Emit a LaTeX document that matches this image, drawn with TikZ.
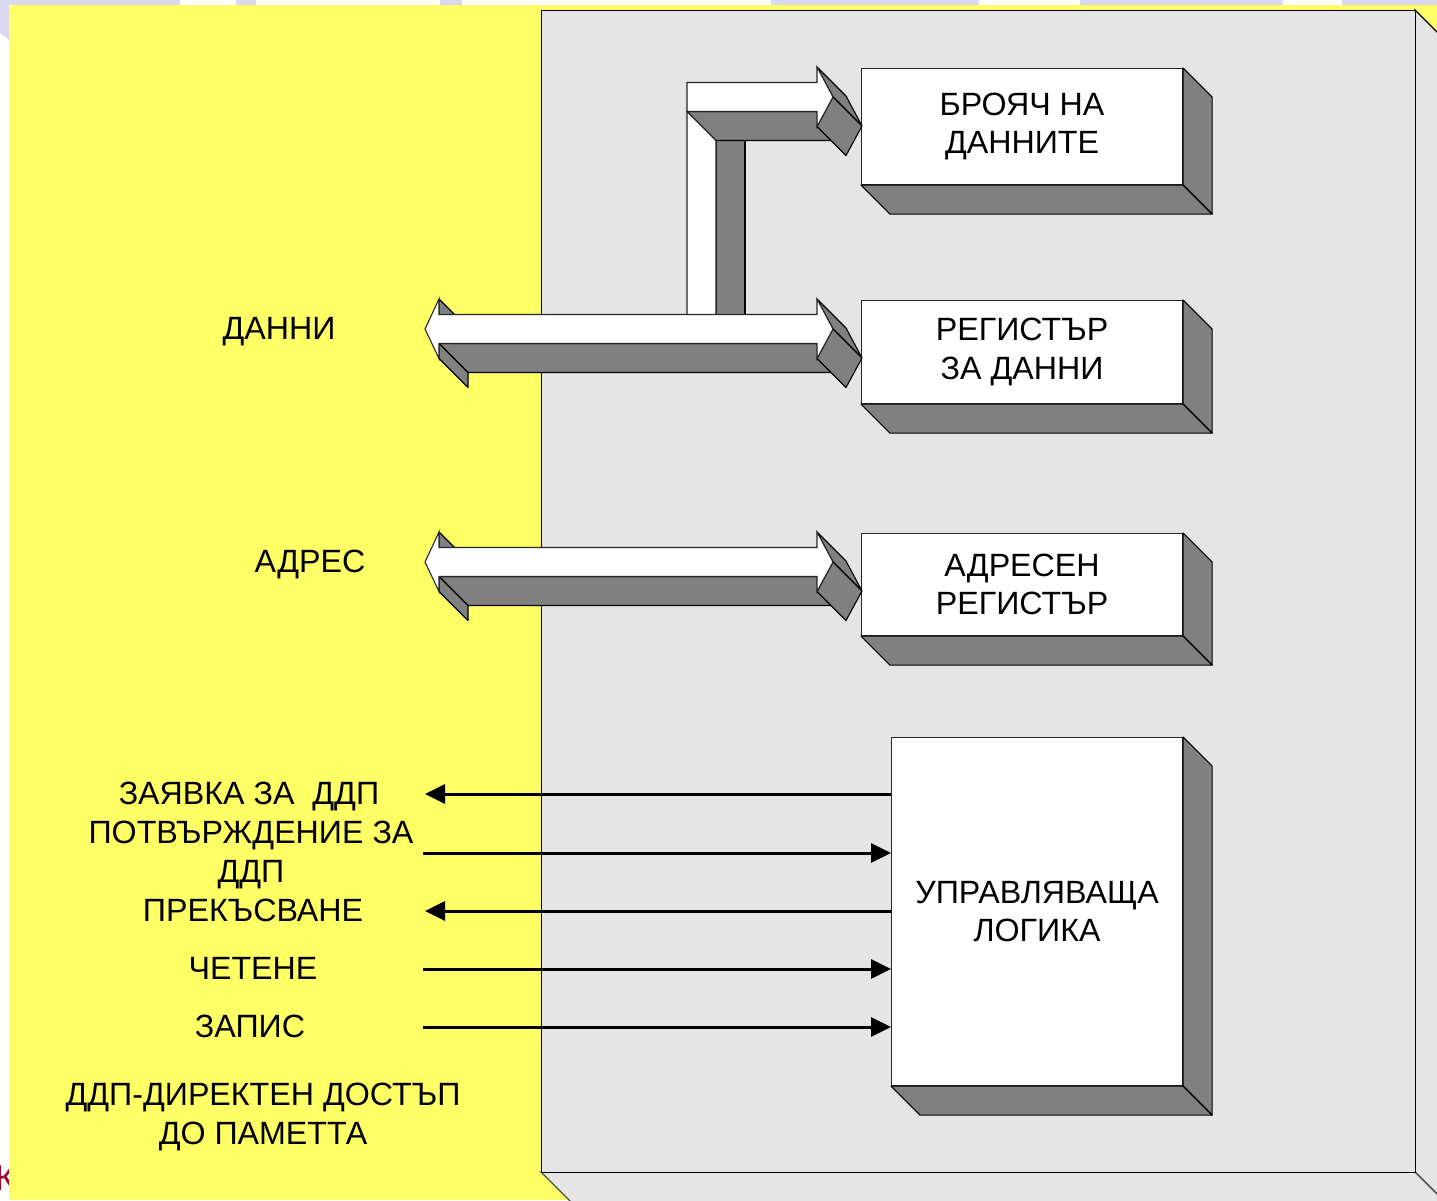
\documentclass[tikz,border=0pt]{standalone}
\usepackage{fontspec}
\setmainfont{Liberation Sans}
\usetikzlibrary{arrows.meta}
\definecolor{slideyellow}{HTML}{FFFF66}
\definecolor{lav}{HTML}{DAD8EE}
\definecolor{panelgray}{HTML}{E5E5E5}
\definecolor{shade}{HTML}{808080}
\definecolor{kred}{HTML}{A0002A}
\newcommand\boxshade[1]{%
  \filldraw[shadow] (#1.north east) -- ([shift={(29,29)}]#1.north east) -- ([shift={(29,29)}]#1.south east) -- (#1.south east) -- cycle;
  \filldraw[shadow] (#1.south west) -- (#1.south east) -- ([shift={(29,29)}]#1.south east) -- ([shift={(29,29)}]#1.south west) -- cycle;}
\newcommand\busarrowdraw{%
  \filldraw[shadow] (439,-30) -- (439,-14.5) -- (468,14.5) -- (468,-1) -- cycle;
  \filldraw[shadow] (439,14.5) -- (817,14.5) -- (846,43.5) -- (468,43.5) -- cycle;
  \filldraw[shadow] (439,14.5) -- (439,29.5) -- (468,58.5) -- (468,43.5) -- cycle;
  \filldraw[shadow] (817,-30) -- (833,0) -- (862,29) -- (846,-1) -- cycle;
  \filldraw[shadow] (833,0) -- (817,29.5) -- (846,58.5) -- (862,29) -- cycle;
  \filldraw[face] (425,0) -- (439,-30) -- (439,-14.5) -- (817,-14.5) -- (817,-30) -- (833,0) -- (817,29.5) -- (817,14.5) -- (439,14.5) -- (439,29.5) -- cycle;}
\begin{document}
\begin{tikzpicture}[x=1pt,y=-1pt,
  lbl/.style={font=\fontsize{32.2}{38.5}\selectfont, align=center, inner sep=0pt},
  oneline/.style={lbl, text height=23pt, text depth=0pt},
  face/.style={fill=white, draw=black!85, line width=1.1pt},
  shadow/.style={fill=shade, draw=black, line width=1.1pt, line join=round},
  boxface/.style={face, lbl, anchor=north west},
  sig/.style={line width=3pt, -{Triangle[length=20pt,width=19pt]}}]
\useasboundingbox (0,0) rectangle (1437,1200);
\clip (0,0) rectangle (1437,1200);
\fill[white] (0,0) rectangle (1437,1200);
% lavender background bits
\fill[lav] (0,0) -- (180,0) -- (180,5) -- (9,5) -- (9,40) -- (0,33) -- cycle;
\fill[lav] (236,0) rectangle (256,5);
\fill[lav] (440,0) rectangle (462,5);
\fill[lav] (771,0) rectangle (979,5);
\fill[lav] (1080,0) rectangle (1283,5);
\fill[lav] (1342,0) rectangle (1437,5);
\node[text=kred, font=\fontsize{36}{40}\selectfont, anchor=east, inner sep=0pt] (kk) at (16,1178) {К};
% yellow slide area
\fill[slideyellow] (9,4.6) rectangle (1437,1200);
% grey 3D panel
\filldraw[fill=panelgray, draw=black, line width=1.3pt] (1415,10) -- (1445,40) -- (1445,1202) -- (1415,1172) -- cycle;
\filldraw[fill=panelgray, draw=black!70, line width=1.3pt] (541,1172) -- (1415,1172) -- (1445,1202) -- (571,1202) -- cycle;
\node[draw=black, fill=panelgray, line width=1.3pt, minimum width=874pt, minimum height=1162pt, inner sep=0pt, anchor=north west] (panel) at (541,10) {};
% boxes
\node[boxface, minimum width=321pt, minimum height=116pt] (cnt) at (861,68) {БРОЯЧ НА\\ДАННИТЕ};
\boxshade{cnt}
\node[boxface, minimum width=321pt, minimum height=103pt] (dreg) at (861,300) {РЕГИСТЪР\\ЗА ДАННИ};
\boxshade{dreg}
\node[boxface, minimum width=321pt, minimum height=102pt] (areg) at (861,533) {АДРЕСЕН\\РЕГИСТЪР};
\boxshade{areg}
\node[boxface, minimum width=291pt, minimum height=348pt] (logic) at (891,737) {УПРАВЛЯВАЩА\\ЛОГИКА};
\boxshade{logic}
% upper bent arrow to the counter
\filldraw[shadow] (716,140.5) rectangle (745,315);
\filldraw[shadow] (687,111.5) -- (817,111.5) -- (846,140.5) -- (716,140.5) -- cycle;
\filldraw[shadow] (817,67) -- (833,97) -- (862,126) -- (846,96) -- cycle;
\filldraw[shadow] (833,97) -- (817,126.5) -- (846,155.5) -- (862,126) -- cycle;
\filldraw[face] (687,111.5) -- (716,140.5) -- (716,315) -- (687,315) -- cycle;
\filldraw[face] (687,82.5) -- (817,82.5) -- (817,67) -- (833,97) -- (817,126.5) -- (817,111.5) -- (687,111.5) -- cycle;
% data and address buses
\begin{scope}[shift={(0,329)}]\busarrowdraw\end{scope}
\begin{scope}[shift={(0,562)}]\busarrowdraw\end{scope}
% labels
\node[oneline] (ldata) at (279,328) {ДАННИ};
\node[oneline] (laddr) at (310,561) {АДРЕС};
\node[oneline] (lreq) at (249,793) {ЗАЯВКА ЗА\ \ ДДП};
\node[lbl] (lack) at (251,855) {ПОТВЪРЖДЕНИЕ ЗА\\ДДП};
\node[oneline] (lint) at (253,910) {ПРЕКЪСВАНЕ};
\node[oneline] (lrd) at (253,968) {ЧЕТЕНЕ};
\node[oneline] (lwr) at (250,1026) {ЗАПИС};
\node[lbl] (lnote) at (263,1117) {ДДП-ДИРЕКТЕН ДОСТЪП\\ДО ПАМЕТТА};
% control signals
\coordinate (e1) at (425,794);
\coordinate (s2) at (423,853);
\coordinate (e3) at (425,911);
\coordinate (s4) at (423,969);
\coordinate (s5) at (423,1027);
\draw[sig] (logic.west |- e1) -- (e1);
\draw[sig] (s2) -- (logic.west |- s2);
\draw[sig] (logic.west |- e3) -- (e3);
\draw[sig] (s4) -- (logic.west |- s4);
\draw[sig] (s5) -- (logic.west |- s5);
\end{tikzpicture}
\end{document}
